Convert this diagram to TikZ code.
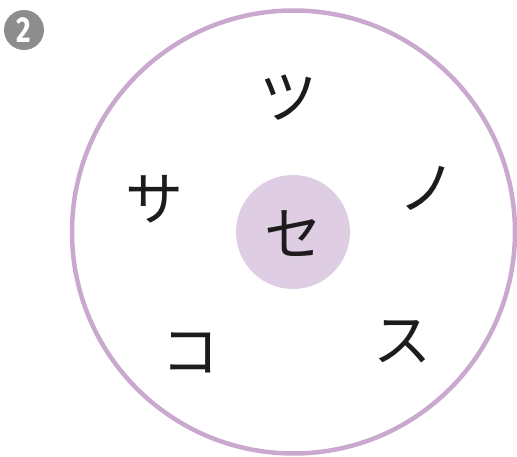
\documentclass[tikz,border=0pt]{standalone}
\usepackage{fontspec}
\newfontfamily\jp{Noto Sans CJK JP}
\newfontfamily\badgefont{Fira Sans}[UprightFont=* Bold]
\definecolor{ringpurple}{HTML}{C9A9CD}
\definecolor{corepurple}{HTML}{DECDE3}
\definecolor{badgegray}{HTML}{8D8D8E}
\definecolor{inkblack}{HTML}{1E1B1C}
\begin{document}
\begin{tikzpicture}[x=1pt,y=-1pt,
  kana/.style={font=\jp\fontsize{58}{58}\selectfont, text=inkblack, inner sep=0pt}]
\useasboundingbox (0,0) rectangle (517,457);
\node[circle, draw=ringpurple, line width=4.5pt, minimum size=443pt, inner sep=0pt] (ring) at (293.5,232) {};
\node[circle, fill=corepurple, minimum size=114pt, inner sep=0pt] (core) at (293,232) {};
\node[kana] (se) at (293,234) {セ};
\node[kana] (tsu) at (288,98) {ツ};
\node[kana] (sa) at (154,199) {サ};
\node[kana] (no) at (427,188) {ノ};
\node[kana] (ko) at (190,353) {コ};
\node[kana] (su) at (402,342) {ス};
\node[circle, fill=badgegray, minimum size=40pt, inner sep=0pt,
  text=white, font=\badgefont\fontsize{36}{36}\selectfont] (badge) at (24,30) {\scalebox{0.78}[1]{2}};
\end{tikzpicture}
\end{document}
